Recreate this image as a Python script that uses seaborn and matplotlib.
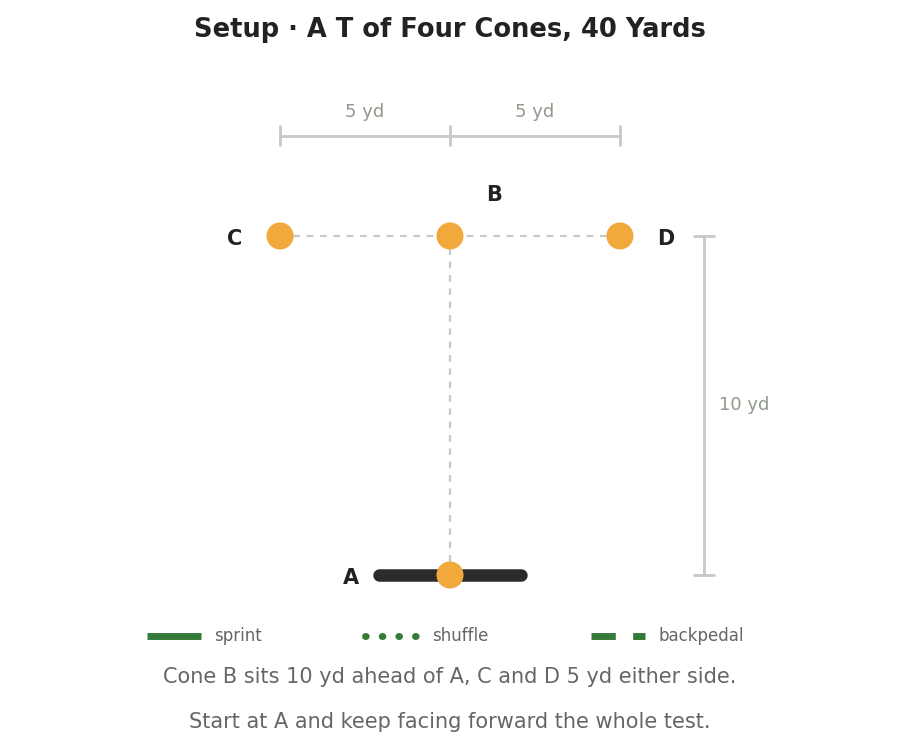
import matplotlib
matplotlib.use('Agg')
import matplotlib.pyplot as plt
import seaborn as sns
import pandas as pd
from matplotlib.lines import Line2D

sns.set_style('white')
plt.rcParams['font.family'] = ['DejaVu Sans']

# cone layout in yards
cone_names = ['A', 'B', 'C', 'D']
cone_x = [0, 0, -5, 5]
cone_y = [0, 10, 10, 10]
label_dx = [-2.9, 1.3, -1.35, 1.35]
label_dy = [-0.1, 1.2, -0.1, -0.1]
gap_labels = ['5 yd', '5 yd']
depth_label = '10 yd'
legend_labels = ['sprint', 'shuffle', 'backpedal']

cones = pd.DataFrame({'name': cone_names, 'x': cone_x, 'y': cone_y})

fig = plt.figure(figsize=(9, 7.55), dpi=100)
ax = fig.add_axes([0, 0, 1, 1])
ax.set_xlim(-13.24, 13.24)
ax.set_ylim(-5.31, 16.96)
ax.axis('off')

grey = '#c8c8c8'
# guide lines
ax.plot([-5, 5], [10, 10], ls=(0, (3, 3)), color=grey, lw=1.6, zorder=1)
ax.plot([0, 0], [0, 10], ls=(0, (3, 3)), color=grey, lw=1.6, zorder=1)
# start line
ax.plot([-2.1, 2.1], [0, 0], color='#2b2b2b', lw=9, solid_capstyle='round', zorder=2)

sns.scatterplot(data=cones, x='x', y='y', s=380, color='#f2a93b', edgecolor='none', ax=ax, zorder=3, legend=False)
for n, x, y, dx, dy in zip(cone_names, cone_x, cone_y, label_dx, label_dy):
    ax.text(x + dx, y + dy, n, ha='center', va='center', fontsize=15, fontweight='bold', color='#222222')

# top dimension
ty = 12.95
ax.plot([-5, 5], [ty, ty], color=grey, lw=2)
for x in [-5, 0, 5]:
    ax.plot([x, x], [ty - 0.28, ty + 0.28], color=grey, lw=2)
for x, t in zip([-2.5, 2.5], gap_labels):
    ax.text(x, ty + 0.45, t, ha='center', va='bottom', fontsize=13, color='#8f9a8a')

# right dimension
rx = 7.47
ax.plot([rx, rx], [0, 10], color=grey, lw=2)
for y in [0, 10]:
    ax.plot([rx - 0.3, rx + 0.3], [y, y], color=grey, lw=2)
ax.text(rx + 0.45, 5, depth_label, ha='left', va='center', fontsize=13, color='#8f9a8a')

fig.text(0.5, 0.96, 'Setup · A T of Four Cones, 40 Yards', ha='center', va='center',
         fontsize=18.5, fontweight='bold', color='#222222')

green = '#357a38'
handles = [Line2D([], [], color=green, lw=5, ls='-', solid_capstyle='butt'),
           Line2D([], [], color=green, lw=5, ls=(0, (0.1, 2.3)), dash_capstyle='round'),
           Line2D([], [], color=green, lw=5, ls=(0, (3.5, 2.5)), dash_capstyle='butt')]
leg = fig.legend(handles, legend_labels, loc='center', bbox_to_anchor=(0.495, 0.157), ncol=3,
                 frameon=False, fontsize=12, handlelength=3.2, columnspacing=6.2, handletextpad=0.8)
for t in leg.get_texts():
    t.set_color('#666666')

fig.text(0.5, 0.103, 'Cone B sits 10 yd ahead of A, C and D 5 yd either side.', ha='center',
         va='center', fontsize=15, color='#666666')
fig.text(0.5, 0.044, 'Start at A and keep facing forward the whole test.', ha='center',
         va='center', fontsize=15, color='#666666')

fig.savefig('out.png', dpi=100)
